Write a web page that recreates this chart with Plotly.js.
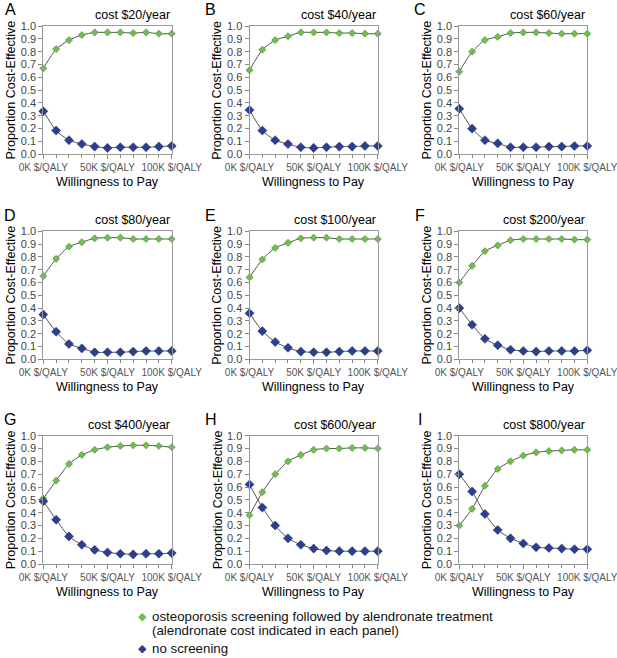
<!DOCTYPE html>
<html><head><meta charset="utf-8">
<script src="https://cdn.plot.ly/plotly-3.0.1.min.js"></script>
<style>body{margin:0;padding:0;background:#fff}#chart{width:617px;height:658px}</style>
</head><body><div id="chart"></div>
<script>
const wtp = [0, 10000, 20000, 30000, 40000, 50000, 60000, 70000, 80000, 90000, 100000];
const panelLetters = ["A","B","C","D","E","F","G","H","I"];
const panelCosts = ["cost $20/year","cost $40/year","cost $60/year","cost $80/year","cost $100/year","cost $200/year","cost $400/year","cost $600/year","cost $800/year"];
const screenA = [0.67,0.82,0.89,0.93,0.95,0.95,0.95,0.945,0.95,0.94,0.94];
const noneA   = [0.335,0.185,0.11,0.08,0.06,0.05,0.055,0.055,0.055,0.06,0.065];
const screenB = [0.655,0.815,0.89,0.92,0.95,0.95,0.95,0.945,0.945,0.94,0.94];
const noneB   = [0.345,0.185,0.11,0.08,0.055,0.05,0.055,0.06,0.06,0.065,0.065];
const screenC = [0.645,0.80,0.89,0.915,0.945,0.95,0.95,0.945,0.94,0.94,0.94];
const noneC   = [0.355,0.20,0.11,0.085,0.055,0.055,0.055,0.06,0.06,0.065,0.065];
const screenD = [0.65,0.785,0.88,0.915,0.945,0.95,0.95,0.94,0.94,0.94,0.94];
const noneD   = [0.35,0.215,0.12,0.085,0.055,0.055,0.055,0.06,0.065,0.065,0.065];
const screenE = [0.64,0.78,0.87,0.91,0.945,0.95,0.95,0.94,0.94,0.94,0.94];
const noneE   = [0.36,0.22,0.135,0.09,0.06,0.055,0.055,0.06,0.065,0.065,0.065];
const screenF = [0.60,0.73,0.845,0.89,0.93,0.94,0.94,0.94,0.94,0.935,0.935];
const noneF   = [0.40,0.27,0.16,0.11,0.075,0.065,0.06,0.065,0.065,0.065,0.07];
const screenG = [0.51,0.65,0.78,0.85,0.89,0.91,0.92,0.925,0.925,0.92,0.91];
const noneG   = [0.49,0.345,0.215,0.15,0.11,0.09,0.08,0.075,0.08,0.08,0.085];
const screenH = [0.38,0.56,0.70,0.80,0.85,0.89,0.90,0.90,0.905,0.905,0.90];
const noneH   = [0.62,0.44,0.30,0.20,0.15,0.12,0.105,0.10,0.10,0.10,0.10];
const screenI = [0.30,0.43,0.61,0.74,0.80,0.845,0.87,0.88,0.885,0.89,0.89];
const noneI   = [0.70,0.565,0.39,0.265,0.20,0.16,0.13,0.125,0.12,0.115,0.115];
const screenSeries = [screenA,screenB,screenC,screenD,screenE,screenF,screenG,screenH,screenI];
const noneSeries = [noneA,noneB,noneC,noneD,noneE,noneF,noneG,noneH,noneI];
const xTickVals = [0, 50000, 100000];
const xTickText = ["0K $/QALY","50K $/QALY","100K $/QALY"];
const legendScreenLines = ["osteoporosis screening followed by alendronate treatment", "(alendronate cost indicated in each panel)"];
const legendNone = "no screening";

const W = 617, H = 658;
const colX = [[43.3,171.7],[249.5,377.8],[459.3,587.3]];
const rowY = [[26,154.3],[231.3,359.3],[435.7,564]];
const letterShift = [-33, -39, -39];
const green = "#6fbf4e", greenEdge = "#3f7f2a", blue = "#2c3f8f", blueEdge = "#1c2a66";
const font = "Liberation Sans, Arial, sans-serif";

const data = [];
const layout = {
  width: W, height: H, margin: {l:0,r:0,t:0,b:0,autoexpand:false},
  paper_bgcolor: "#fff", plot_bgcolor: "#fff",
  font: {family: font, color: "#000"},
  showlegend: false,
  annotations: []
};
for (let i = 0; i < 9; i++) {
  const r = Math.floor(i/3), c = i%3;
  const n = i === 0 ? "" : String(i+1);
  const xa = "x"+n, ya = "y"+n;
  layout["xaxis"+n] = {
    domain: [colX[c][0]/W, colX[c][1]/W], anchor: ya, range: [0, 100000],
    tickvals: xTickVals, ticktext: xTickText, ticks: "outside", ticklen: 4, tickcolor: "#888",
    minor: {dtick: 10000, ticks: "outside", ticklen: 3, tickcolor: "#888"},
    showline: true, linecolor: "#999", mirror: true, showgrid: false, zeroline: false,
    ticklabeloverflow: "allow", automargin: false,
    tickfont: {size: 10, color: "#555", family: font}, fixedrange: true
  };
  layout["yaxis"+n] = {
    domain: [1-rowY[r][1]/H, 1-rowY[r][0]/H], anchor: xa, range: [0, 1],
    tickvals: [0,0.1,0.2,0.3,0.4,0.5,0.6,0.7,0.8,0.9,1.0], tickformat: ".1f",
    ticks: "outside", ticklen: 4, tickcolor: "#888", automargin: false,
    showline: true, linecolor: "#999", mirror: true, showgrid: false, zeroline: false,
    tickfont: {size: 11, color: "#444", family: font}, fixedrange: true
  };
  data.push({x: wtp, y: screenSeries[i], xaxis: xa, yaxis: ya, mode: "lines+markers",
    name: legendScreenLines[0],
    line: {color: "#555", width: 1, shape: "spline", smoothing: 0.6},
    marker: {symbol: "diamond", size: 5.5, color: green, line: {color: greenEdge, width: 0.5}}, cliponaxis: false});
  data.push({x: wtp, y: noneSeries[i], xaxis: xa, yaxis: ya, mode: "lines+markers",
    name: legendNone,
    line: {color: "#555", width: 1, shape: "spline", smoothing: 0.6},
    marker: {symbol: "diamond", size: 7, color: blue, line: {color: blueEdge, width: 0.5}}, cliponaxis: false});
  const xd = xa + " domain", yd = ya + " domain";
  layout.annotations.push({xref: xd, yref: yd, x: 1, y: 1, xanchor: "right", yanchor: "bottom", yshift: 2,
    text: panelCosts[i], showarrow: false, font: {size: 12.5, color: "#000", family: font}});
  layout.annotations.push({xref: xd, yref: yd, x: 0.5, y: 0, xanchor: "center", yanchor: "middle", yshift: -28,
    text: "Willingness to Pay", showarrow: false, font: {size: 12.5, color: "#000", family: font}});
  layout.annotations.push({xref: xd, yref: yd, x: 0, y: 0.5, xanchor: "center", yanchor: "middle", xshift: -32,
    textangle: -90, text: "Proportion Cost-Effective", showarrow: false, font: {size: 12.5, color: "#000", family: font}});
  layout.annotations.push({xref: xd, yref: yd, x: 0, y: 1, xanchor: "center", yanchor: "middle", xshift: letterShift[c], yshift: 16,
    text: panelLetters[i], showarrow: false, font: {size: 16, color: "#000", family: font}});
}
// legend (drawn as text annotations for exact line spacing)
const legFont = {size: 13.3, color: "#111", family: font};
function legText(txt, yPx) {
  layout.annotations.push({xref: "paper", yref: "paper", x: 150/W, y: 1-yPx/H, xanchor: "left", yanchor: "middle",
    text: txt, showarrow: false, font: legFont});
}
function legMark(col, yPx) {
  layout.annotations.push({xref: "paper", yref: "paper", x: 142/W, y: 1-yPx/H, xanchor: "center", yanchor: "middle",
    text: "◆", showarrow: false, font: {size: 11, color: col, family: "DejaVu Sans"}});
}
legMark(green, 616); legText(legendScreenLines[0], 616); legText(legendScreenLines[1], 630);
legMark(blue, 648); legText(legendNone, 648);
Plotly.newPlot("chart", data, layout, {displayModeBar: false, staticPlot: true});
</script></body></html>
